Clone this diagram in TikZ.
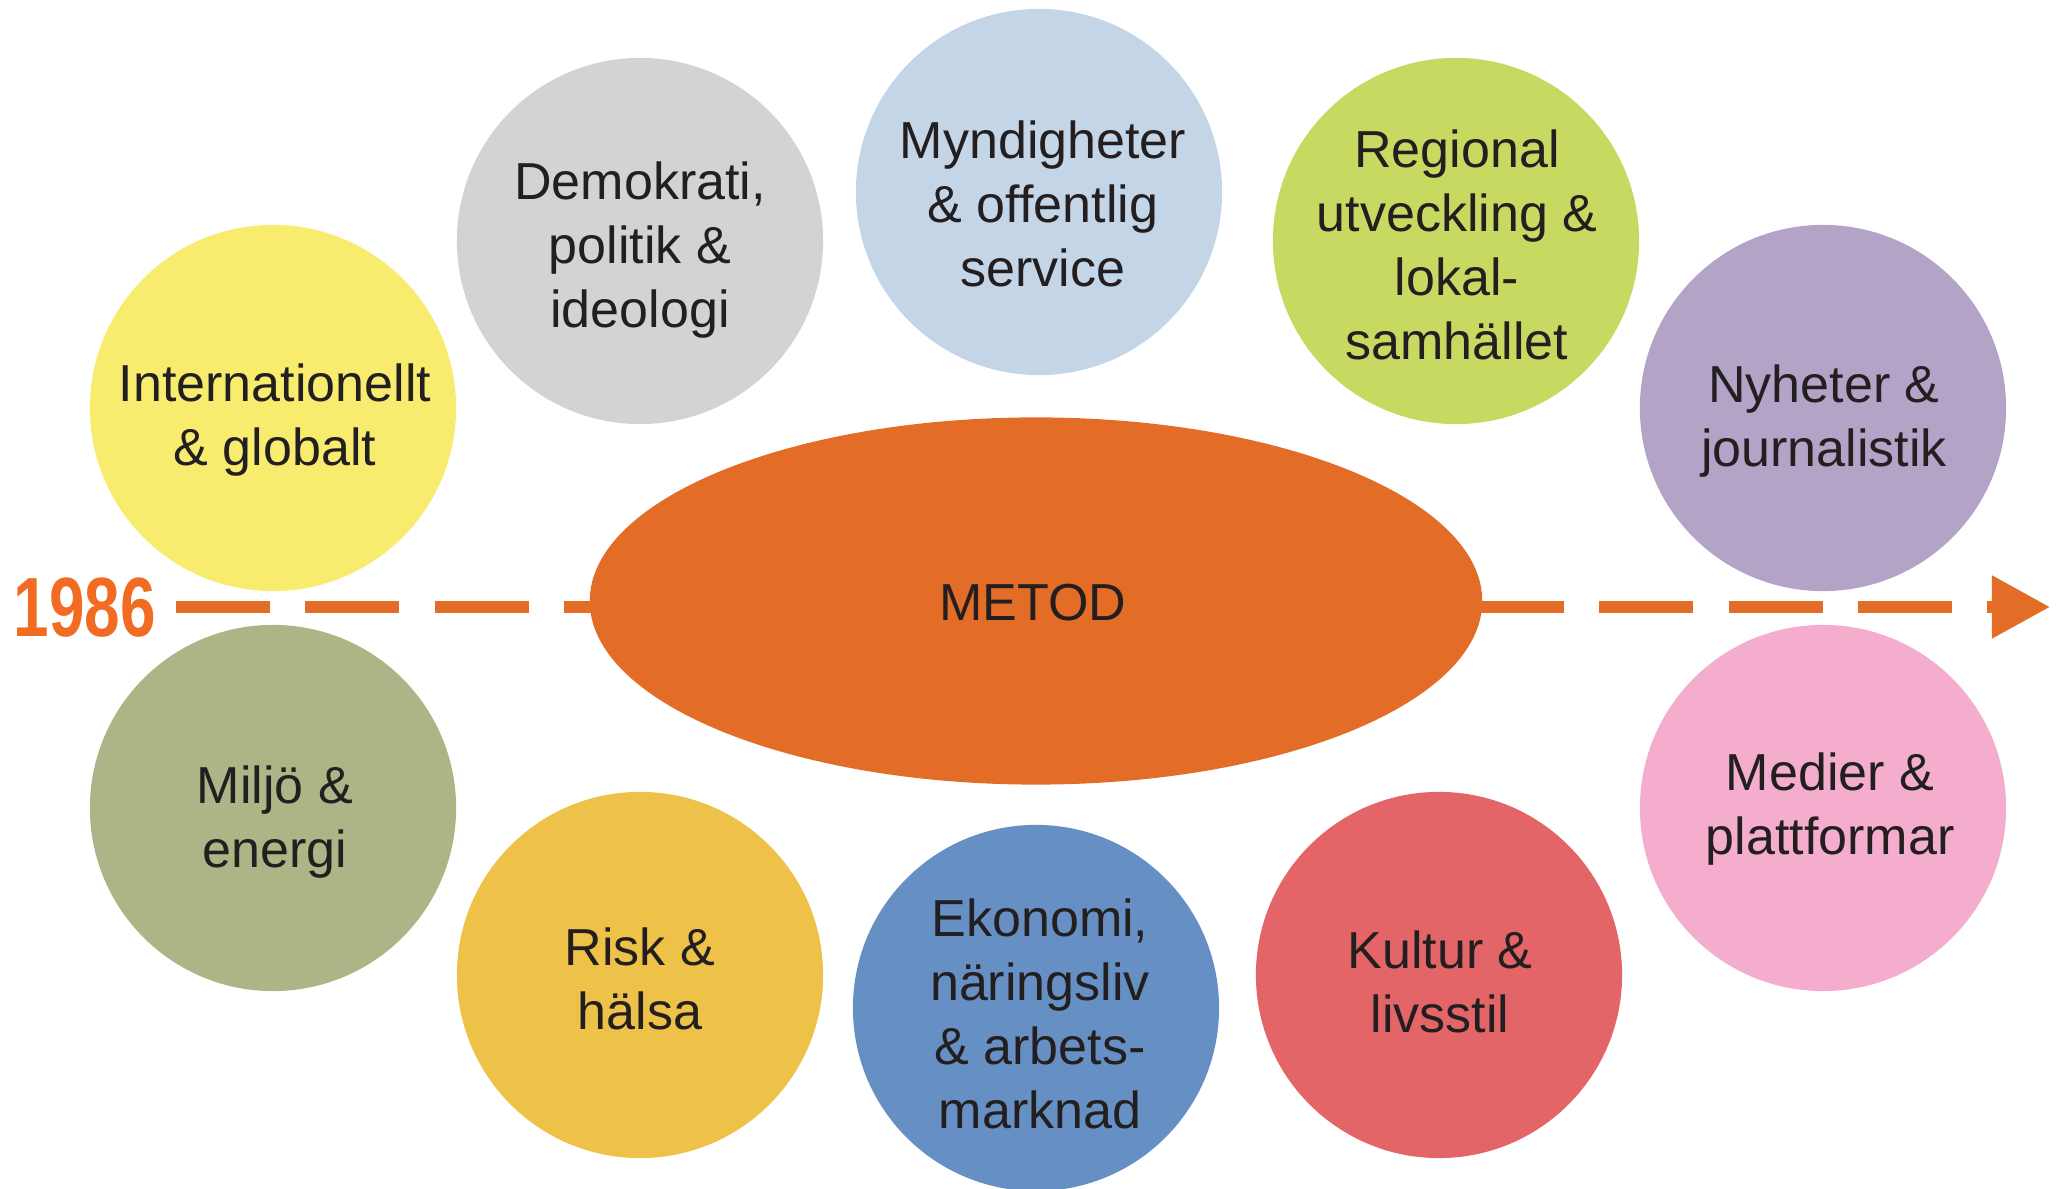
\documentclass[tikz,border=0pt]{standalone}
\usepackage{fontspec}
\setmainfont{Liberation Sans}
\usetikzlibrary{shapes.geometric,arrows.meta}
\definecolor{ink}{HTML}{231F20}
\definecolor{yel}{HTML}{F8EC6E}
\definecolor{gry}{HTML}{D1D3D4}
\definecolor{lbl}{HTML}{C5D5E8}
\definecolor{lim}{HTML}{C7D961}
\definecolor{pur}{HTML}{B2A3C7}
\definecolor{olv}{HTML}{ABB585}
\definecolor{mus}{HTML}{EEC248}
\definecolor{blu}{HTML}{6690C3}
\definecolor{rd}{HTML}{E36567}
\definecolor{pnk}{HTML}{F4ADCD}
\definecolor{org}{HTML}{E36C26}
\definecolor{yearorg}{HTML}{F26B23}
\tikzstyle{topic}=[circle,minimum size=3.66cm,inner sep=0pt]
\tikzstyle{caption}=[align=center,inner sep=0pt,text=ink,text depth=0pt,font=\fontsize{14.8}{18.2}\selectfont]
\tikzstyle{timeline}=[draw=org,line width=.115cm,dash pattern=on .94cm off .353cm,-{Triangle[length=.58cm,width=.6cm]}]

\begin{document}
\begin{tikzpicture}[x=.01cm,y=-.01cm]
\useasboundingbox (0,0) rectangle (2062,1189);
\node[inner sep=0pt,text depth=0pt,text=yearorg,font=\fontsize{23.9}{24}\selectfont\bfseries] (year) at (85,607) {\scalebox{.76}[1]{1986}};
\coordinate (from) at (176,607);
\coordinate (to) at (2050,607);
\draw[timeline] (from) -- (to);
\node[ellipse,fill=org,minimum width=8.92cm,minimum height=3.67cm,inner sep=0pt] (metod) at (1036,601) {};
\node[caption] (l0) at (1033,602) {METOD};
% upper row
\node[topic,fill=yel] (t1) at (273,408) {};
\node[topic,fill=gry] (t2) at (640,241) {};
\node[topic,fill=lbl] (t3) at (1039,192) {};
\node[topic,fill=lim] (t4) at (1456,241) {};
\node[topic,fill=pur] (t5) at (1823,408) {};
% lower row
\node[topic,fill=olv] (t6) at (273,808) {};
\node[topic,fill=mus] (t7) at (640,975) {};
\node[topic,fill=blu] (t8) at (1036,1008) {};
\node[topic,fill=rd] (t9) at (1439,975) {};
\node[topic,fill=pnk] (t10) at (1823,808) {};
% texts
\node[caption] (l1) at (275,415) {Internationellt\\\& globalt};
\node[caption] (l2) at (640,245) {Demokrati,\\politik \&\\ideologi};
\node[caption] (l3) at (1043,204) {Myndigheter\\\& offentlig\\service};
\node[caption] (l4) at (1457,245) {Regional\\utveckling \&\\lokal-\\samhället};
\node[caption] (l5) at (1824,416) {Nyheter \&\\journalistik};
\node[caption] (l6) at (275,817) {Miljö \&\\energi};
\node[caption] (l7) at (640,979) {Risk \&\\hälsa};
\node[caption] (l8) at (1040,1014) {Ekonomi,\\näringsliv\\\& arbets-\\marknad};
\node[caption] (l9) at (1440,982) {Kultur \&\\livsstil};
\node[caption] (l10) at (1830,804) {Medier \&\\plattformar};
\end{tikzpicture}
\end{document}
